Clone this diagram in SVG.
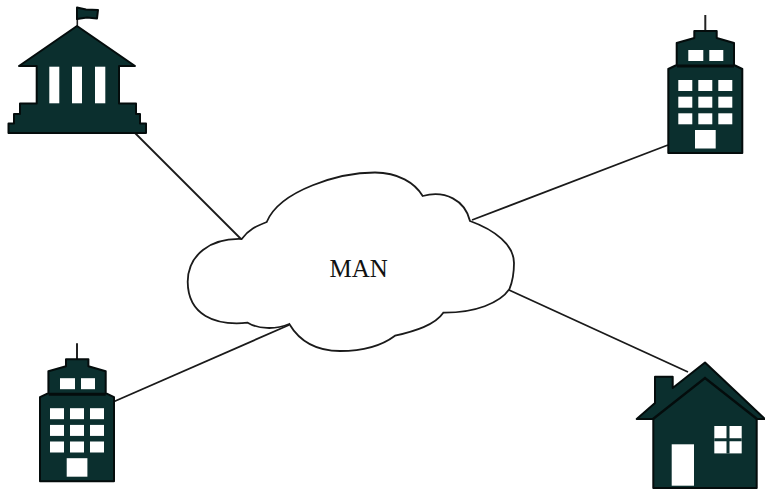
<svg xmlns="http://www.w3.org/2000/svg" width="765" height="490" viewBox="0 0 765 490">
<style>
.dark{fill:#0b2f2e;stroke:#040c0c;stroke-width:2;stroke-linejoin:round}
.win{fill:#fff;stroke:none}
.link{stroke:#1a1a1a;stroke-width:1.8;fill:none}
text{font-family:"Liberation Serif","Times New Roman",serif;font-size:25px;fill:#111}
</style>
<defs>
<g id="tower">
<path d="M705.3 15V31" stroke="#222" stroke-width="2" fill="none"/>
<path class="dark" d="M694.3 31H716.7V38L734 43V65L742.3 69V153H668.3V69L676.7 65V43L694.3 38Z"/>
<path d="M677 66H734" stroke="#040c0c" stroke-width="3"/>
<rect class="win" x="688.3" y="50" width="15" height="11"/>
<rect class="win" x="709.3" y="50" width="14" height="11"/>
<rect class="win" x="678.3" y="80" width="14" height="11"/>
<rect class="win" x="698.3" y="80" width="14" height="11"/>
<rect class="win" x="718.3" y="80" width="14" height="11"/>
<rect class="win" x="678.3" y="96.7" width="14" height="11"/>
<rect class="win" x="698.3" y="96.7" width="14" height="11"/>
<rect class="win" x="718.3" y="96.7" width="14" height="11"/>
<rect class="win" x="678.3" y="113.3" width="14" height="11"/>
<rect class="win" x="698.3" y="113.3" width="14" height="11"/>
<rect class="win" x="718.3" y="113.3" width="14" height="11"/>
<rect class="win" x="695" y="130" width="20.7" height="18.5"/>
</g>
</defs>
<g id="connectors">
<path class="link" d="M135 133L241 239"/>
<path class="link" d="M668 145L472 220"/>
<path class="link" d="M113 402L289 325"/>
<path class="link" d="M509 290L688 372"/>
</g>
<g id="man-cloud">
<path d="M241.7 239C249 229 257 226 266.7 222C280 190 340 172.5 375 172.5C398 172.5 415 183 422.7 196C445 190 465 200 470 221C495 230 514 245 514 263C514 275 512 283 509.3 289.3C500 303 475 313 443.3 312.7C435 325 415 331 395 335.7C380 347 360 351 340 351C318 351 300 342 289.3 324C275 330 258 329 247.7 322.7C215 326 188 315 187.7 281.7C188 255 210 238 241.7 239Z" fill="#fff" stroke="#1a1a1a" stroke-width="1.8"/>
<text x="329.5" y="277">MAN</text>
</g>
<g id="government-building">
<path d="M77.3 8V27" stroke="#222" stroke-width="1.6"/>
<path class="dark" d="M77 7.5L86 9.5L98 10L97 18.5L87 17.5L77 19Z"/>
<path class="dark" d="M77 26L135 66H119V103.5H136V114H140V123.5H146V133H8.5V123.5H14V114H20V103.5H36.7V66H19Z"/>
<rect class="win" x="49.3" y="66.7" width="10" height="36.6"/>
<rect class="win" x="72" y="66.7" width="10" height="36.6"/>
<rect class="win" x="95" y="66.7" width="10.3" height="36.6"/>
</g>
<g id="tower-top-right"><use href="#tower"/></g>
<g id="tower-bottom-left"><use href="#tower" transform="translate(-628.3 328.2)"/></g>
<g id="house">
<path class="dark" d="M705 362.5L765 419H756.7V488H653.3V419H636.7L655 403V376.7H672.7V388Z"/>
<path d="M653 419L705 378L757 419" fill="none" stroke="#040c0c" stroke-width="2.4"/>
<rect class="win" x="671.7" y="444.3" width="22.3" height="41.4"/>
<rect class="win" x="714.3" y="426" width="27.4" height="27.4"/>
<path d="M728 426V453.4M714.3 439.7H741.7" stroke="#0b2f2e" stroke-width="3"/>
</g>
</svg>
